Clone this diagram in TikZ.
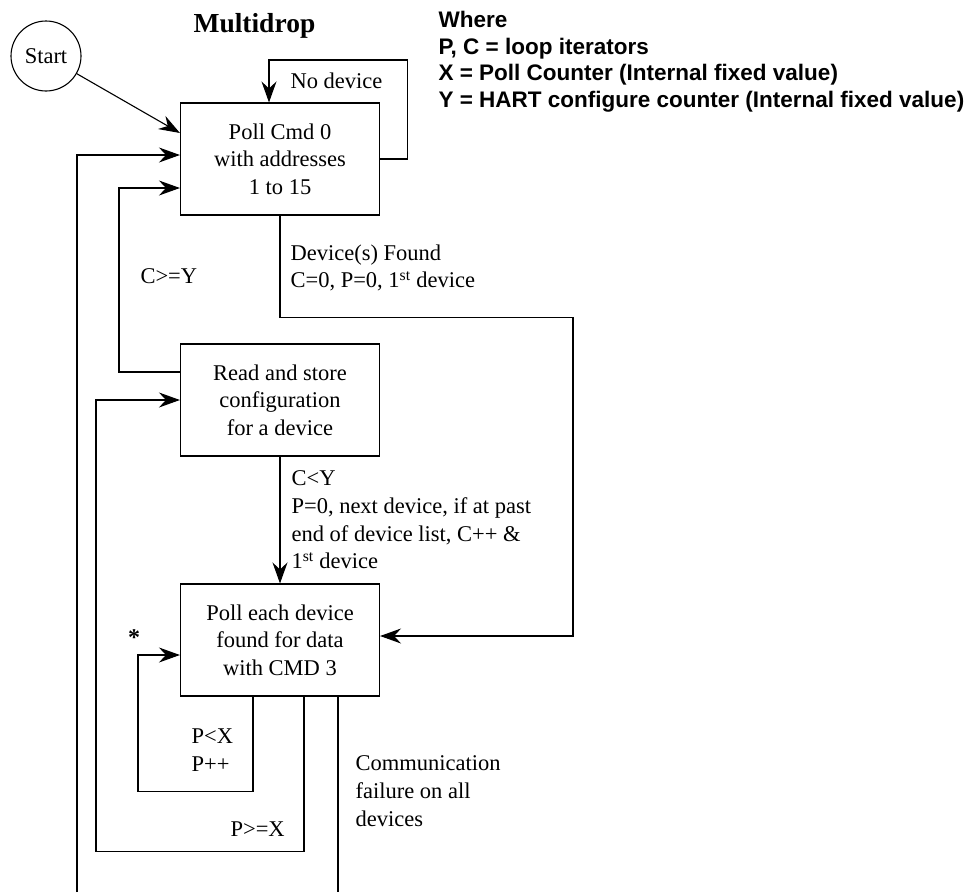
\documentclass[tikz,border=0pt]{standalone}
\usepackage{fontspec}
\setmainfont{Liberation Serif}
\newfontfamily\legendfont{Liberation Sans}
\usetikzlibrary{positioning, arrows.meta, calc}

\begin{document}
\begin{tikzpicture}[
  x=1pt, y=1pt,
  line width=1.1pt,
  %% Main node styles
  stepbox/.style={
    draw, rectangle, minimum width=199pt, minimum height=112pt,
    inner sep=0pt, align=center, font=\fontsize{22.5}{27.5}\selectfont
  },
  startnode/.style={
    draw, circle, minimum size=70pt, inner sep=0pt,
    font=\fontsize{22.5}{27}\selectfont
  },
  flow/.style={-{Stealth[length=21pt, width=15pt, inset=7pt]}, line width=1.1pt},
  %% Label styles
  lbl/.style={
    align=left, inner sep=0pt, font=\fontsize{22.5}{27.8}\selectfont
  },
  legend/.style={
    align=left, inner sep=0pt,
    font=\legendfont\bfseries\fontsize{22.5}{26.5}\selectfont
  },
]
\useasboundingbox (0,0) rectangle (972,-892);

%% ── TITLES ────────────────────────────────────────────────────────────────
\node[font=\bfseries\fontsize{27.5}{32}\selectfont, inner sep=0pt, anchor=base west]
  (title) at (193,-32) {Multidrop};
\node[legend, anchor=north west] (legend) at (438,-11) {%
  Where\\
  P, C = loop iterators\\
  X = Poll Counter (Internal fixed value)\\
  Y = HART configure counter (Internal fixed value)};

%% ── MAIN NODES ────────────────────────────────────────────────────────────
\node[startnode] (start) at (46,-56) {Start};
\node[stepbox] (poll0)  at (280,-159) {Poll Cmd 0\\with addresses\\1 to 15};
\node[stepbox] (config) at (280,-400) {Read and store\\configuration\\for a device};
\node[stepbox] (poll3)  at (280,-640) {Poll each device\\found for data\\with CMD 3};

%% loose ends running off the bottom edge
\coordinate (retend)  at (77,-892);
\coordinate (commend) at (338,-892);

%% ── MAIN ARROWS ───────────────────────────────────────────────────────────
%% Start → Poll Cmd 0
\draw[flow] (start) -- ([yshift=26pt]poll0.west);

%% No device loop
\draw[flow] (poll0.east) -- ++(27,0) -- ++(0,99) -| ([xshift=-11pt]poll0.north);
\node[lbl, anchor=base west] (nodev) at (290,-88) {No device};

%% Device(s) found → Poll each device
\draw[flow] (poll0.south) -- ++(0,-102) -- ++(293,0) |- ([yshift=4pt]poll3.east);
\node[lbl, anchor=north west] (found) at (290,-244)
  {Device(s) Found\\C=0, P=0, 1\textsuperscript{st} device};

%% C>=Y back to Poll Cmd 0
\draw[flow] ([yshift=28pt]config.west) -- ++(-61,0) |- ([yshift=-29pt]poll0.west);
\node[lbl, anchor=base west] (cgey) at (140,-283) {C>=Y};

%% C<Y → Poll each device
\draw[flow] (config.south) -- (poll3.north);
\node[lbl, anchor=north west] (clty) at (291,-470)
  {C<Y\\P=0, next device, if at past\\end of device list, C++ \&\\1\textsuperscript{st} device};

%% P<X loop
\draw[flow] ([xshift=-27pt]poll3.south) |- ++(-115,-95) |- ([yshift=-15pt]poll3.west);
\node[lbl, anchor=north west] (pltx) at (191,-728) {P<X\\P++};
\node[font=\bfseries\fontsize{24}{24}\selectfont] (star) at (134,-638) {*};

%% P>=X back to Read and store
\draw[flow] ([xshift=24pt]poll3.south) |- ++(-208,-155) |- (config.west);
\node[lbl, anchor=base west] (pgex) at (230,-836) {P>=X};

%% Communication failure
\draw ([xshift=58pt]poll3.south) -- (commend);
\node[lbl, anchor=north west] (commfail) at (355,-755)
  {Communication\\failure on all\\devices};

%% Return line from below
\draw[flow] (retend) |- ([yshift=4pt]poll0.west);

\end{tikzpicture}
\end{document}
